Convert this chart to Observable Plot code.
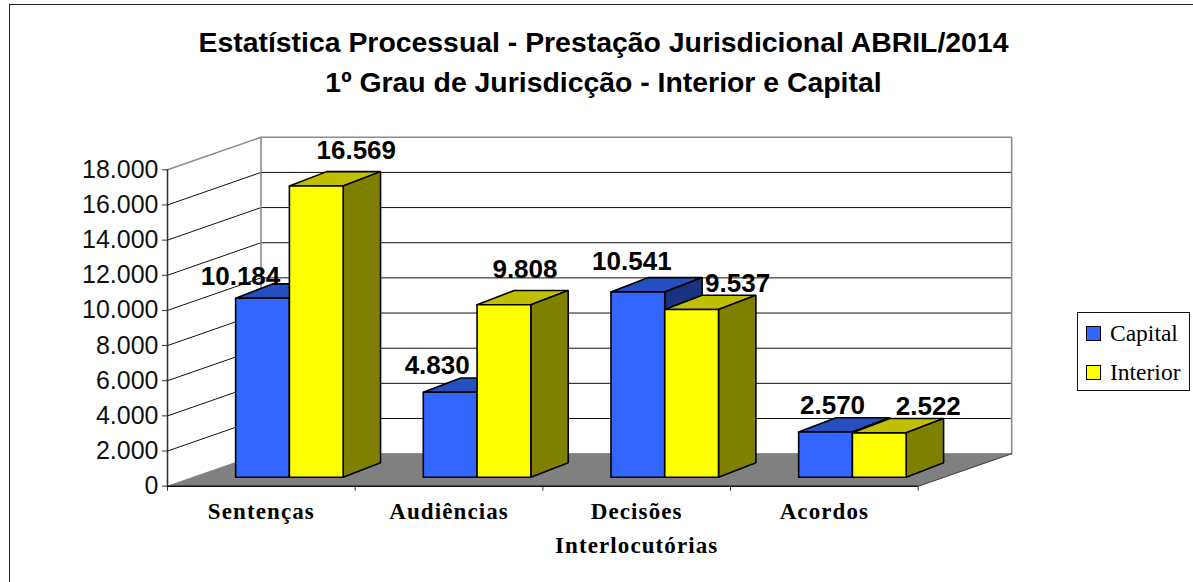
<!DOCTYPE html>
<html lang="pt">
<head>
<meta charset="utf-8">
<script src="https://cdn.jsdelivr.net/npm/d3@7"></script>
<script src="https://cdn.jsdelivr.net/npm/@observablehq/plot@0.6"></script>
<style>
html,body{margin:0;padding:0;background:#fff;width:1193px;height:582px;overflow:hidden}
#frame{position:absolute;left:8.5px;top:4px;width:1200px;height:600px;border-left:1.5px solid #222;border-top:1.5px solid #222}
#title{position:relative;width:1207px;height:120px;box-sizing:border-box;padding-top:22px;text-align:center;font:bold 28.4px/40px "Liberation Sans",Arial,sans-serif;color:#000;white-space:nowrap}
#chart{position:relative}
#chart svg{display:block;overflow:visible}
.cat{letter-spacing:1.1px}
#legend{position:absolute;left:1077px;top:311.5px;width:111px;height:77px;border:1.5px solid #111;background:#fff;font:23.5px "Liberation Serif",serif;color:#000}
#legend .row{position:absolute;left:8px;display:flex;align-items:center;height:24px}
#legend .sw{width:13px;height:13px;border:1.5px solid #000;margin-right:9px;flex:none}
</style>
</head>
<body>
<div id="frame"></div>
<div id="title">Estatística Processual - Prestação Jurisdicional ABRIL/2014<br>1º Grau de Jurisdicção - Interior e Capital</div>
<div id="chart"></div>
<div id="legend"></div>
<script>
const categories = ["Sentenças", "Audiências", "Decisões\nInterlocutórias", "Acordos"];
const capital = [10184, 4830, 10541, 2570];
const interior = [16569, 9808, 9537, 2522];
const seriesNames = ["Capital", "Interior"];
const yTicks = [0, 2000, 4000, 6000, 8000, 10000, 12000, 14000, 16000, 18000];

// label nudges, in pixels, from the bar's front-top centre (hand placed in the original)
const capitalNudge = [[-22, -22], [-13, -27], [-6, -30], [7, -26]];
const interiorNudge = [[40, -35], [21, -35], [46, -26], [49, -26]];

const palette = {
  Capital: {front: "#3366FF", top: "#2650BF", side: "#1A3380"},
  Interior: {front: "#FFFF00", top: "#C0C000", side: "#808000"}
};

const num = v => d3.format(",")(v).replace(",", ".");

// oblique projection: depth t (0 front, 1 back) in data units; tx is the horizontal depth when it differs
const DX = 93.5 / 187.7, DY = 1851;
const P = (i, v, t, tx = t) => ({x: i + tx * DX, y: v + t * DY});
const poly = pts => [...pts, pts[0]];

const T1 = 0.277, T2 = 0.717, TX2 = 0.677, GAP = 0.225, W = 0.2865;

function barMarks(c, k, value, name) {
  const col = palette[name];
  const a = c + GAP + k * W, b = a + W;
  const face = (pts, fill) => Plot.line(poly(pts), {x: "x", y: "y", fill, stroke: "#000", strokeWidth: 1.6, strokeLinejoin: "miter"});
  return [
    face([P(a, value, T1), P(b, value, T1), P(b, value, T2, TX2), P(a, value, T2, TX2)], col.top),
    face([P(b, 0, T1), P(b, 0, T2, TX2), P(b, value, T2, TX2), P(b, value, T1)], col.side),
    face([P(a, 0, T1), P(b, 0, T1), P(b, value, T1), P(a, value, T1)], col.front)
  ];
}

const gray = "#8c8c8c";
const gridLevels = yTicks.filter(v => v > 0 && v < 18000);

const labelMark = (c, k, value, nudge) => Plot.text([value], {
  x: () => P(c + GAP + k * W + W / 2, value, T1).x,
  y: () => P(c, value, T1).y,
  text: d => num(d),
  dx: nudge[0], dy: nudge[1],
  fontSize: 26, fontWeight: "bold", fontFamily: "Liberation Sans", fill: "#000"
});

const plot = Plot.plot({
  width: 1193, height: 462,
  marginLeft: 167, marginRight: 275.3, marginTop: 49.3, marginBottom: 96.3,
  style: {background: "transparent", overflow: "visible"},
  x: {domain: [0, 4]},
  y: {domain: [0, 18000]},
  marks: [
    // floor
    Plot.line(poly([P(0, 0, 0), P(4, 0, 0), P(4, 0, 1), P(0, 0, 1)]), {x: "x", y: "y", fill: "#808080", stroke: "#808080", strokeWidth: 1}),
    // grid on side wall and back wall
    ...gridLevels.map(v => Plot.line([P(0, v, 0), P(0, v, 1), P(4, v, 1)], {x: "x", y: "y", stroke: "#111", strokeWidth: 1})),
    // wall outline
    Plot.line([P(0, 18000, 0), P(0, 18000, 1), P(4, 18000, 1), P(4, 0, 1)], {x: "x", y: "y", stroke: gray, strokeWidth: 1.6}),
    Plot.line([P(0, 0, 1), P(0, 18000, 1)], {x: "x", y: "y", stroke: gray, strokeWidth: 1.6}),
    Plot.line([P(4, 0, 0), P(4, 0, 1)], {x: "x", y: "y", stroke: "#444", strokeWidth: 1}),
    // bars
    ...categories.flatMap((_, c) => [
      ...barMarks(c, 0, capital[c], seriesNames[0]),
      ...barMarks(c, 1, interior[c], seriesNames[1])
    ]),
    // axes
    Plot.axisY({ticks: yTicks, tickSize: 5, tickPadding: 4, tickFormat: num, fontSize: 25, fontFamily: "Liberation Sans", label: null, stroke: "#333", fill: "#111"}),
    Plot.ruleX([0], {y1: 0, y2: 18000, stroke: "#333", strokeWidth: 1.6}),
    Plot.axisX({ticks: [0, 1, 2, 3, 4], tickSize: 5, tickFormat: () => "", label: null, stroke: "#333"}),
    Plot.ruleY([0], {x1: 0, x2: 4, stroke: "#111", strokeWidth: 1.4}),
    // category labels
    Plot.text(categories, {
      x: (d, i) => i + 0.5, y: () => 0, text: d => d,
      dy: 9, lineAnchor: "top", lineHeight: 1.47,
      fontSize: 23, fontWeight: "bold", fontFamily: "Liberation Serif", fill: "#000", className: "cat"
    }),
    // value labels
    ...categories.flatMap((_, c) => [
      labelMark(c, 0, capital[c], capitalNudge[c]),
      labelMark(c, 1, interior[c], interiorNudge[c])
    ])
  ]
});
document.getElementById("chart").append(plot);

const legend = d3.select("#legend");
seriesNames.forEach((n, i) => {
  const row = legend.append("div").attr("class", "row").style("top", (9 + i * 39) + "px");
  row.append("div").attr("class", "sw").style("background", palette[n].front);
  row.append("span").text(n);
});
</script>
</body>
</html>
